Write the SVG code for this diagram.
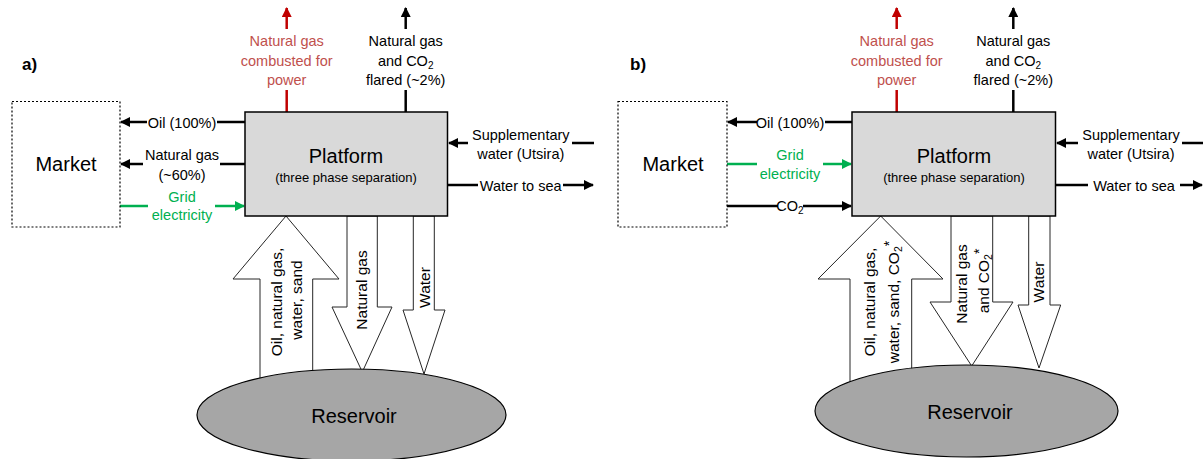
<svg xmlns="http://www.w3.org/2000/svg" width="1204" height="459" viewBox="0 0 1204 459">
<style>
text{font-family:"Liberation Sans",Arial,sans-serif;fill:#000}
.t{font-size:14.5px;text-anchor:middle}
.rt{font-size:15.5px;text-anchor:middle}
.red{fill:#c0504d}
.grn{fill:#00b050}
.lbl{font-size:17px;font-weight:bold}
.big{font-size:20px;text-anchor:middle}
.small{font-size:13px;text-anchor:middle}
.ln{stroke:#000;stroke-width:2.5;fill:none}
.lnr{stroke:#c00000;stroke-width:2.5;fill:none}
.lng{stroke:#00b050;stroke-width:2.5;fill:none}
.flow{fill:#fff;stroke:#262626;stroke-width:1}
.market{fill:#fff;stroke:#000;stroke-width:1.2;stroke-dasharray:2 2}
.plat{fill:#d9d9d9;stroke:#000;stroke-width:1.5}
.res{fill:#a6a6a6;stroke:#000;stroke-width:1.2}
</style>
<defs>
<marker id="ab" viewBox="0 0 10 10" refX="9" refY="5" markerWidth="10" markerHeight="10" markerUnits="userSpaceOnUse" orient="auto"><path d="M0,0 L10,5 L0,10 z" fill="#000"/></marker>
<marker id="ar" viewBox="0 0 10 10" refX="9" refY="5" markerWidth="10" markerHeight="10" markerUnits="userSpaceOnUse" orient="auto"><path d="M0,0 L10,5 L0,10 z" fill="#c00000"/></marker>
<marker id="ag" viewBox="0 0 10 10" refX="9" refY="5" markerWidth="10" markerHeight="10" markerUnits="userSpaceOnUse" orient="auto"><path d="M0,0 L10,5 L0,10 z" fill="#00b050"/></marker>
</defs>

<text class="lbl" x="22" y="70">a)</text>
<text class="lbl" x="630" y="70">b)</text>

<g id="connectors">
<!-- panel a -->
<line class="ln" x1="245" y1="122" x2="217" y2="122"/>
<line class="ln" x1="147" y1="122" x2="121" y2="122" marker-end="url(#ab)"/>
<line class="ln" x1="245" y1="164" x2="220" y2="164"/>
<line class="ln" x1="143" y1="164" x2="121" y2="164" marker-end="url(#ab)"/>
<line class="lng" x1="120" y1="206" x2="148" y2="206"/>
<line class="lng" x1="215" y1="206" x2="244" y2="206" marker-end="url(#ag)"/>
<line class="lnr" x1="286.7" y1="112" x2="286.7" y2="90"/>
<line class="lnr" x1="286.7" y1="29" x2="286.7" y2="8" marker-end="url(#ar)"/>
<line class="ln" x1="405.7" y1="112" x2="405.7" y2="90"/>
<line class="ln" x1="405.7" y1="29" x2="405.7" y2="8" marker-end="url(#ab)"/>
<line class="ln" x1="594" y1="143" x2="572" y2="143"/>
<line class="ln" x1="468" y1="143" x2="449" y2="143" marker-end="url(#ab)"/>
<line class="ln" x1="448" y1="185" x2="478" y2="185"/>
<line class="ln" x1="563" y1="185" x2="593" y2="185" marker-end="url(#ab)"/>
<polygon class="flow" points="286,216 339,279 312.7,279 312.7,390 260,390 260,279 233,279"/>
<polygon class="flow" points="347,216 377.3,216 377.3,307 392,307 362.3,372 332,307 347,307"/>
<polygon class="flow" points="413.3,216 434.3,216 434.3,310 445,310 424,374 403,310 413.3,310"/>
<!-- panel b -->
<line class="ln" x1="852" y1="122" x2="825" y2="122"/>
<line class="ln" x1="757" y1="122" x2="728" y2="122" marker-end="url(#ab)"/>
<line class="lng" x1="727" y1="164" x2="757" y2="164"/>
<line class="lng" x1="823" y1="164" x2="851" y2="164" marker-end="url(#ag)"/>
<line class="ln" x1="727" y1="206" x2="778" y2="206"/>
<line class="ln" x1="803" y1="206" x2="851" y2="206" marker-end="url(#ab)"/>
<line class="lnr" x1="896.7" y1="112" x2="896.7" y2="90"/>
<line class="lnr" x1="896.7" y1="29" x2="896.7" y2="8" marker-end="url(#ar)"/>
<line class="ln" x1="1013.3" y1="112" x2="1013.3" y2="90"/>
<line class="ln" x1="1013.3" y1="29" x2="1013.3" y2="8" marker-end="url(#ab)"/>
<line class="ln" x1="1203" y1="143" x2="1182" y2="143"/>
<line class="ln" x1="1078" y1="143" x2="1057" y2="143" marker-end="url(#ab)"/>
<line class="ln" x1="1056" y1="185" x2="1088" y2="185"/>
<line class="ln" x1="1180" y1="185" x2="1202" y2="185" marker-end="url(#ab)"/>
<polygon class="flow" points="880.7,216 943,279 911.7,279 911.7,390 850,390 850,279 818,279"/>
<polygon class="flow" points="951,216 992.7,216 992.7,302 1013,302 971.7,366 930,302 951,302"/>
<polygon class="flow" points="1028.7,216 1050,216 1050,305 1060.7,305 1039,368 1018,305 1028.7,305"/>
</g>

<g id="labels-a">
<text class="t red" x="286.7" y="46">Natural gas</text>
<text class="t red" x="286.7" y="65.5">combusted for</text>
<text class="t red" x="286.7" y="85">power</text>
<text class="t" x="405.7" y="46">Natural gas</text>
<text class="t" x="405.7" y="65.5">and CO<tspan font-size="10" dy="3">2</tspan></text>
<text class="t" x="405.7" y="85">flared (~2%)</text>
<text class="t" x="182" y="128">Oil (100%)</text>
<text class="t" x="182" y="160">Natural gas</text>
<text class="t" x="182" y="179.5">(~60%)</text>
<text class="t grn" x="182" y="201.5">Grid</text>
<text class="t grn" x="182" y="220">electricity</text>
<text class="t" x="520.8" y="139.5">Supplementary</text>
<text class="t" x="520.8" y="158.5">water (Utsira)</text>
<text class="t" x="520.7" y="190.5">Water to sea</text>
<text class="rt" transform="translate(282,302) rotate(-90)">Oil, natural gas,</text>
<text class="rt" transform="translate(302,300) rotate(-90)">water, sand</text>
<text class="rt" transform="translate(367,290) rotate(-90)">Natural gas</text>
<text class="rt" transform="translate(430,287.5) rotate(-90)">Water</text>
</g>

<g id="labels-b">
<text class="t red" x="896.7" y="46">Natural gas</text>
<text class="t red" x="896.7" y="65.5">combusted for</text>
<text class="t red" x="896.7" y="85">power</text>
<text class="t" x="1013.3" y="46">Natural gas</text>
<text class="t" x="1013.3" y="65.5">and CO<tspan font-size="10" dy="3">2</tspan></text>
<text class="t" x="1013.3" y="85">flared (~2%)</text>
<text class="t" x="790" y="128">Oil (100%)</text>
<text class="t grn" x="790" y="159.5">Grid</text>
<text class="t grn" x="790" y="179">electricity</text>
<text class="t" x="790" y="211">CO<tspan font-size="10" dy="3">2</tspan></text>
<text class="t" x="1131" y="139.5">Supplementary</text>
<text class="t" x="1131" y="158.5">water (Utsira)</text>
<text class="t" x="1134" y="190.5">Water to sea</text>
<text class="rt" transform="translate(875,302) rotate(-90)">Oil, natural gas,</text>
<text class="rt" transform="translate(899,302) rotate(-90)">water, sand, CO<tspan font-size="10.5" dy="3">2</tspan><tspan font-size="14" dy="-8">*</tspan></text>
<text class="rt" transform="translate(966.5,284) rotate(-90)">Natural gas</text>
<text class="rt" transform="translate(988.5,281) rotate(-90)">and CO<tspan font-size="10.5" dy="3">2</tspan><tspan font-size="14" dy="-8">*</tspan></text>
<text class="rt" transform="translate(1044,282) rotate(-90)">Water</text>
</g>

<g id="market-a">
<rect class="market" x="12" y="101.5" width="108" height="125.5"/>
<text class="big" x="66" y="171">Market</text>
</g>
<g id="platform-a">
<rect class="plat" x="245" y="112" width="202.5" height="104"/>
<text class="big" x="346" y="163">Platform</text>
<text class="small" x="346" y="182">(three phase separation)</text>
</g>
<g id="reservoir-a">
<ellipse class="res" cx="351.5" cy="415" rx="154.5" ry="46"/>
<text class="big" x="354" y="423">Reservoir</text>
</g>

<g id="market-b">
<rect class="market" x="618" y="101.5" width="109" height="125.5"/>
<text class="big" x="673" y="171">Market</text>
</g>
<g id="platform-b">
<rect class="plat" x="852" y="112" width="203.5" height="104"/>
<text class="big" x="954" y="163">Platform</text>
<text class="small" x="954" y="182">(three phase separation)</text>
</g>
<g id="reservoir-b">
<ellipse class="res" cx="966.5" cy="411" rx="151.5" ry="46"/>
<text class="big" x="970" y="419">Reservoir</text>
</g>
</svg>
